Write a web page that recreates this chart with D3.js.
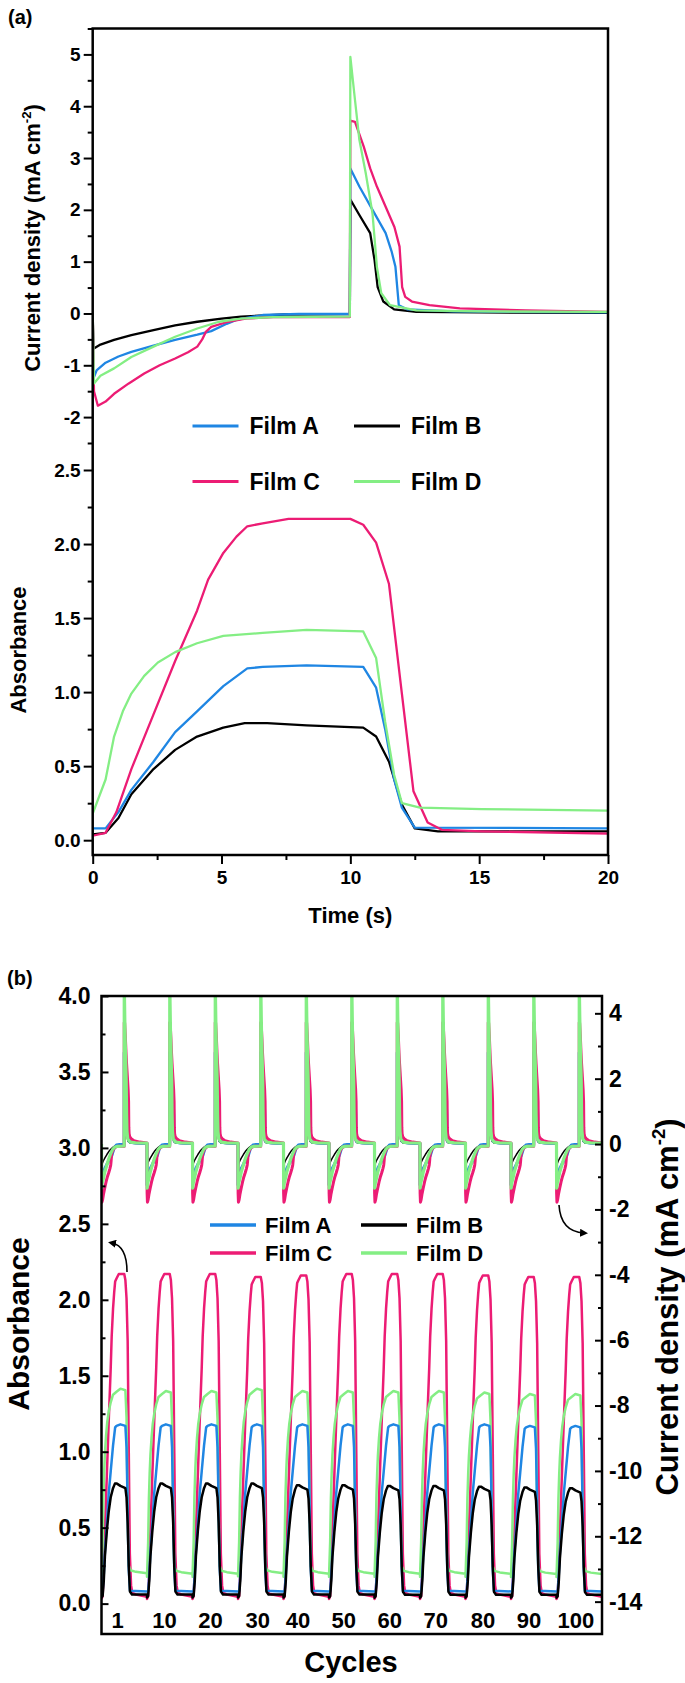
<!DOCTYPE html>
<html>
<head>
<meta charset="utf-8">
<script src="https://cdn.jsdelivr.net/npm/d3@7"></script>
<style>
body { margin: 0; background: #fff; }
text { font-family: Arial, "Liberation Sans", sans-serif; font-weight: bold; fill: #000; }
</style>
</head>
<body>
<div id="chart"></div>
<script>
var filmNames = ['Film A', 'Film B', 'Film C', 'Film D'];
var filmColors = ['#1f86e3', '#000000', '#ec1c74', '#84ee84'];

// (a) current density vs time, [t (s), j (mA cm-2)]
var curA = [[0,0],[0.03,-1.25],[0.15,-1.1],[0.5,-0.95],[1,-0.83],[1.5,-0.74],[2.36,-0.62],[3.2,-0.51],[4.06,-0.41],[4.6,-0.34],[5.2,-0.2],[5.6,-0.12],[6.6,-0.03],[8,-0.01],[9.98,-0.01],
  [10,2.8],[10.35,2.45],[10.86,2.0],[11.37,1.55],[11.6,1.2],[11.75,0.9],[11.88,0.16],[12.2,0.08],[14,0.04],[20,0.02]];
var curB = [[0,0],[0.03,-0.68],[0.3,-0.6],[0.83,-0.51],[1.5,-0.42],[2.36,-0.32],[3.2,-0.23],[4.06,-0.16],[5,-0.1],[5.76,-0.06],[7.46,-0.02],[9.98,-0.01],
  [10,2.2],[10.35,1.9],[10.77,1.55],[10.94,1.03],[11.06,0.51],[11.28,0.23],[11.7,0.08],[12.56,0.03],[15,0.02],[20,0.01]];
var curC = [[0,0],[0.05,-1.5],[0.2,-1.78],[0.5,-1.7],[0.83,-1.55],[1.4,-1.35],[2,-1.16],[2.6,-1.0],[3.2,-0.87],[3.7,-0.75],[4.06,-0.64],[4.25,-0.5],[4.4,-0.35],[4.6,-0.26],[5.25,-0.16],[5.93,-0.1],[7,-0.07],[9.98,-0.07],
  [10,3.72],[10.18,3.7],[10.52,3.22],[10.77,2.8],[11.03,2.45],[11.37,2.06],[11.71,1.67],[11.91,1.29],[12.01,0.51],[12.13,0.32],[12.39,0.23],[13.07,0.16],[14.25,0.1],[16.8,0.06],[20,0.03]];
var curD = [[0,0],[0.05,-1.35],[0.3,-1.2],[0.83,-1.06],[1.5,-0.84],[2.36,-0.64],[3.2,-0.45],[4.06,-0.29],[4.9,-0.16],[5.76,-0.1],[7,-0.07],[9.98,-0.06],
  [10,4.95],[10.18,4.12],[10.35,3.35],[10.6,2.7],[10.86,1.93],[11.03,0.9],[11.2,0.39],[11.54,0.16],[12.56,0.06],[15,0.04],[20,0.03]];

// (a) absorbance vs time, [t (s), A]
var absA = [[0,0.08],[0.5,0.08],[1,0.19],[1.5,0.34],[2.36,0.53],[3.2,0.73],[4.05,0.87],[5.07,1.04],[6,1.16],[6.6,1.17],[8.3,1.18],[10.5,1.17],[11,1.03],[11.35,0.75],[11.7,0.41],[12,0.22],[12.5,0.085],[20,0.08]];
var absB = [[0,0.04],[0.5,0.05],[1,0.15],[1.5,0.31],[2.36,0.48],[3.2,0.61],[4.05,0.7],[5.07,0.76],[5.9,0.79],[6.77,0.79],[8.3,0.775],[10.5,0.76],[11,0.7],[11.5,0.53],[12,0.24],[12.5,0.08],[13.4,0.06],[20,0.06]];
var absC = [[0,0.03],[0.5,0.05],[0.92,0.19],[1.5,0.48],[2.36,0.85],[3.2,1.21],[4.05,1.55],[4.48,1.76],[5.07,1.94],[5.58,2.05],[6,2.12],[6.6,2.14],[7.6,2.17],[10,2.17],[10.5,2.13],[11,2.01],[11.5,1.73],[12,0.99],[12.45,0.33],[13,0.12],[13.55,0.07],[15.1,0.06],[20,0.045]];
var absD = [[0,0.18],[0.5,0.41],[0.83,0.7],[1.17,0.87],[1.5,0.99],[2,1.11],[2.53,1.2],[3.2,1.27],[4.05,1.33],[5.07,1.38],[6.6,1.4],[8.3,1.42],[10.5,1.41],[11,1.23],[11.35,0.8],[11.7,0.44],[12,0.25],[12.7,0.22],[15.1,0.21],[20,0.2]];

// (b) cycles shown and the absorbance peak read for each
var cycleLabels = ['1', '10', '20', '30', '40', '50', '60', '70', '80', '90', '100'];
var cycleLabelPos = [6.9, 27.5, 47.7, 68.5, 86.2, 106.3, 126.5, 146.7, 167.5, 187.7, 208.3];
var peakA = [1.18, 1.18, 1.18, 1.18, 1.18, 1.18, 1.18, 1.18, 1.18, 1.17, 1.17];
var peakB = [0.79, 0.79, 0.79, 0.79, 0.78, 0.78, 0.775, 0.775, 0.77, 0.765, 0.76];
var peakC = [2.17, 2.17, 2.17, 2.15, 2.16, 2.17, 2.17, 2.17, 2.16, 2.15, 2.15];
var peakD = [1.415, 1.4, 1.4, 1.415, 1.4, 1.4, 1.4, 1.4, 1.39, 1.38, 1.38];
var cyclePeriod = 20;

var curTicksA = [-2, -1, 0, 1, 2, 3, 4, 5];
var curMinorA = [-2.5, -1.5, -0.5, 0.5, 1.5, 2.5, 3.5, 4.5, 5.5];
var absTicksA = [0, 0.5, 1, 1.5, 2, 2.5];
var absMinorA = [0.25, 0.75, 1.25, 1.75, 2.25];
var timeTicks = [0, 5, 10, 15, 20];
var timeMinor = [2.5, 7.5, 12.5, 17.5];
var absTicksB = [0, 0.5, 1, 1.5, 2, 2.5, 3, 3.5, 4];
var absMinorB = [0.25, 0.75, 1.25, 1.75, 2.25, 2.75, 3.25, 3.75];
var curTicksB = [-14, -12, -10, -8, -6, -4, -2, 0, 2, 4];
var curMinorB = [-13, -11, -9, -7, -5, -3, -1, 1, 3];

var W = 685, H = 1683;
var svg = d3.select('#chart').append('svg').attr('width', W).attr('height', H);
var defs = svg.append('defs');

function fmt1(d) { return d.toFixed(1); }

function yTitle(x, y, size, label, sup) {
	var t = svg.append('text')
		.attr('transform', 'translate(' + x + ',' + y + ') rotate(-90)')
		.attr('text-anchor', 'middle')
		.style('font-size', size + 'px');
	t.append('tspan').text(label);
	if (sup) {
		t.append('tspan').attr('dy', -0.42 * size).style('font-size', (0.6 * size) + 'px').text(sup);
		t.append('tspan').attr('dy', 0.42 * size).text(')');
	}
}

function drawLines(g, list, x, y, widths) {
	var line = d3.line().x(function (d) { return x(d[0]); }).y(function (d) { return y(d[1]); });
	list.forEach(function (s) {
		g.append('path')
			.attr('d', line(s.data))
			.attr('fill', 'none')
			.attr('stroke', filmColors[s.film])
			.attr('stroke-width', widths[s.film])
			.attr('stroke-linejoin', 'round');
	});
}

function legend(x0, y0, rowGap, colGap, size, lw, gap) {
	filmNames.forEach(function (name, i) {
		var cx = x0 + (i % 2) * colGap, cy = y0 + Math.floor(i / 2) * rowGap;
		svg.append('line').attr('x1', cx).attr('x2', cx + 46).attr('y1', cy).attr('y2', cy)
			.attr('stroke', filmColors[i]).attr('stroke-width', lw);
		svg.append('text').attr('x', cx + gap).attr('y', cy + size * 0.36)
			.style('font-size', size + 'px').text(name);
	});
}

function styleAxis(g, size) {
	g.select('.domain').remove();
	g.selectAll('line').attr('stroke', '#000').attr('stroke-width', 2);
	g.selectAll('text').style('font-size', size + 'px').attr('fill', '#000');
}

// ---------- panel (a) ----------
var pa = { left: 92.7, right: 608, top: 28.5, bottom: 855 };
var xA = d3.scaleLinear().domain([0, 20]).range([pa.left, pa.right]);
var yCurA = d3.scaleLinear().domain([-2.5, 5.5]).range([443, pa.top]);
var yAbsA = d3.scaleLinear().domain([-0.1, 2.5]).range([pa.bottom, 470]);

defs.append('clipPath').attr('id', 'clipA').append('rect')
	.attr('x', pa.left).attr('y', pa.top).attr('width', pa.right - pa.left).attr('height', pa.bottom - pa.top);

var gA = svg.append('g').attr('clip-path', 'url(#clipA)');
drawLines(gA, [{ film: 1, data: curB }, { film: 0, data: curA }, { film: 2, data: curC }, { film: 3, data: curD }], xA, yCurA, [2.3, 2.3, 2.3, 2.3]);
drawLines(gA, [{ film: 1, data: absB }, { film: 0, data: absA }, { film: 2, data: absC }, { film: 3, data: absD }], xA, yAbsA, [2.3, 2.3, 2.3, 2.3]);

svg.append('g').attr('transform', 'translate(' + pa.left + ',0)')
	.call(d3.axisLeft(yCurA).tickValues(curTicksA).tickSize(9).tickPadding(3).tickFormat(String))
	.call(styleAxis, 19);
svg.append('g').attr('transform', 'translate(' + pa.left + ',0)')
	.call(d3.axisLeft(yCurA).tickValues(curMinorA).tickSize(5).tickFormat(''))
	.call(styleAxis, 19);
svg.append('g').attr('transform', 'translate(' + pa.left + ',0)')
	.call(d3.axisLeft(yAbsA).tickValues(absTicksA).tickSize(9).tickPadding(3).tickFormat(fmt1))
	.call(styleAxis, 19);
svg.append('g').attr('transform', 'translate(' + pa.left + ',0)')
	.call(d3.axisLeft(yAbsA).tickValues(absMinorA).tickSize(5).tickFormat(''))
	.call(styleAxis, 19);
svg.append('g').attr('transform', 'translate(0,' + pa.bottom + ')')
	.call(d3.axisBottom(xA).tickValues(timeTicks).tickSize(9).tickPadding(7).tickFormat(String))
	.call(styleAxis, 19);
svg.append('g').attr('transform', 'translate(0,' + pa.bottom + ')')
	.call(d3.axisBottom(xA).tickValues(timeMinor).tickSize(5).tickFormat(''))
	.call(styleAxis, 19);

svg.append('rect').attr('x', pa.left).attr('y', pa.top)
	.attr('width', pa.right - pa.left).attr('height', pa.bottom - pa.top)
	.attr('fill', 'none').attr('stroke', '#000').attr('stroke-width', 2.5);

legend(192.5, 426, 55.6, 161.5, 23, 3, 57);

yTitle(40, 238, 22, 'Current density (mA cm', '-2');
yTitle(26, 650, 22, 'Absorbance');
svg.append('text').attr('x', (pa.left + pa.right) / 2).attr('y', 923)
	.attr('text-anchor', 'middle').style('font-size', '22px').text('Time (s)');
svg.append('text').attr('x', 8).attr('y', 24).style('font-size', '20px').text('(a)');

// ---------- panel (b) ----------
var pb = { left: 101.5, right: 602, top: 996, bottom: 1634 };
var xB = d3.scaleLinear().domain([0, cycleLabels.length * cyclePeriod]).range([pb.left, pb.right]);
var yAbsB = d3.scaleLinear().domain([-0.2, 4.0]).range([pb.bottom, pb.top]);
var yCurB = d3.scaleLinear().domain([-14.99, 4.53]).range([pb.bottom, pb.top]);

function repeatCycles(tpl, peaks) {
	var top = d3.max(tpl, function (d) { return d[1]; });
	var out = [];
	cycleLabels.forEach(function (c, k) {
		var s = peaks ? peaks[k] / top : 1;
		tpl.forEach(function (d) { out.push([k * cyclePeriod + d[0], d[1] * s]); });
	});
	return out;
}

defs.append('clipPath').attr('id', 'clipB').append('rect')
	.attr('x', pb.left).attr('y', pb.top).attr('width', pb.right - pb.left).attr('height', pb.bottom - pb.top);

var gB = svg.append('g').attr('clip-path', 'url(#clipB)');
drawLines(gB, [{ film: 2, data: repeatCycles(absC, peakC) }, { film: 3, data: repeatCycles(absD, peakD) },
	{ film: 0, data: repeatCycles(absA, peakA) }, { film: 1, data: repeatCycles(absB, peakB) }], xB, yAbsB, [2.5, 2.5, 2.5, 2.5]);
drawLines(gB, [{ film: 1, data: repeatCycles(curB) }, { film: 0, data: repeatCycles(curA) },
	{ film: 2, data: repeatCycles(curC) }, { film: 3, data: repeatCycles(curD) }], xB, yCurB, [3, 1.5, 3, 3.2]);

svg.append('g').attr('transform', 'translate(' + pb.left + ',0)')
	.call(d3.axisLeft(yAbsB).tickValues(absTicksB).tickSizeInner(-7).tickSizeOuter(0).tickPadding(11).tickFormat(fmt1))
	.call(styleAxis, 23);
svg.append('g').attr('transform', 'translate(' + pb.left + ',0)')
	.call(d3.axisLeft(yAbsB).tickValues(absMinorB).tickSizeInner(-4).tickSizeOuter(0).tickFormat(''))
	.call(styleAxis, 23);
svg.append('g').attr('transform', 'translate(' + pb.right + ',0)')
	.call(d3.axisRight(yCurB).tickValues(curTicksB).tickSizeInner(-7).tickSizeOuter(0).tickPadding(7).tickFormat(String))
	.call(styleAxis, 23);
svg.append('g').attr('transform', 'translate(' + pb.right + ',0)')
	.call(d3.axisRight(yCurB).tickValues(curMinorB).tickSizeInner(-4).tickSizeOuter(0).tickFormat(''))
	.call(styleAxis, 23);
svg.append('g').attr('transform', 'translate(0,' + pb.bottom + ')')
	.call(d3.axisTop(xB).tickValues(cycleLabelPos).tickSize(0).tickPadding(6)
		.tickFormat(function (d, i) { return cycleLabels[i]; }))
	.call(styleAxis, 22);

svg.append('rect').attr('x', pb.left).attr('y', pb.top)
	.attr('width', pb.right - pb.left).attr('height', pb.bottom - pb.top)
	.attr('fill', 'none').attr('stroke', '#000').attr('stroke-width', 2.5);

legend(210, 1225, 28, 151, 22, 3.5, 55);

// arrows pointing at the matching axis
defs.append('marker').attr('id', 'head').attr('viewBox', '0 0 10 10')
	.attr('refX', 5).attr('refY', 5).attr('markerWidth', 5).attr('markerHeight', 5)
	.attr('orient', 'auto').append('path').attr('d', 'M0,0L10,5L0,10z').attr('fill', '#000');
svg.append('path').attr('d', 'M127,1272 C127,1255 122,1245 112,1243')
	.attr('fill', 'none').attr('stroke', '#000').attr('stroke-width', 1.6).attr('marker-end', 'url(#head)');
svg.append('path').attr('d', 'M559,1205 C560,1222 568,1232 584,1233')
	.attr('fill', 'none').attr('stroke', '#000').attr('stroke-width', 1.6).attr('marker-end', 'url(#head)');

yTitle(29, 1324, 30, 'Absorbance');
yTitle(678, 1307, 31, 'Current density (mA cm', '-2');
svg.append('text').attr('x', 351).attr('y', 1672)
	.attr('text-anchor', 'middle').style('font-size', '29px').text('Cycles');
svg.append('text').attr('x', 7).attr('y', 985).style('font-size', '20px').text('(b)');
</script>
</body>
</html>
